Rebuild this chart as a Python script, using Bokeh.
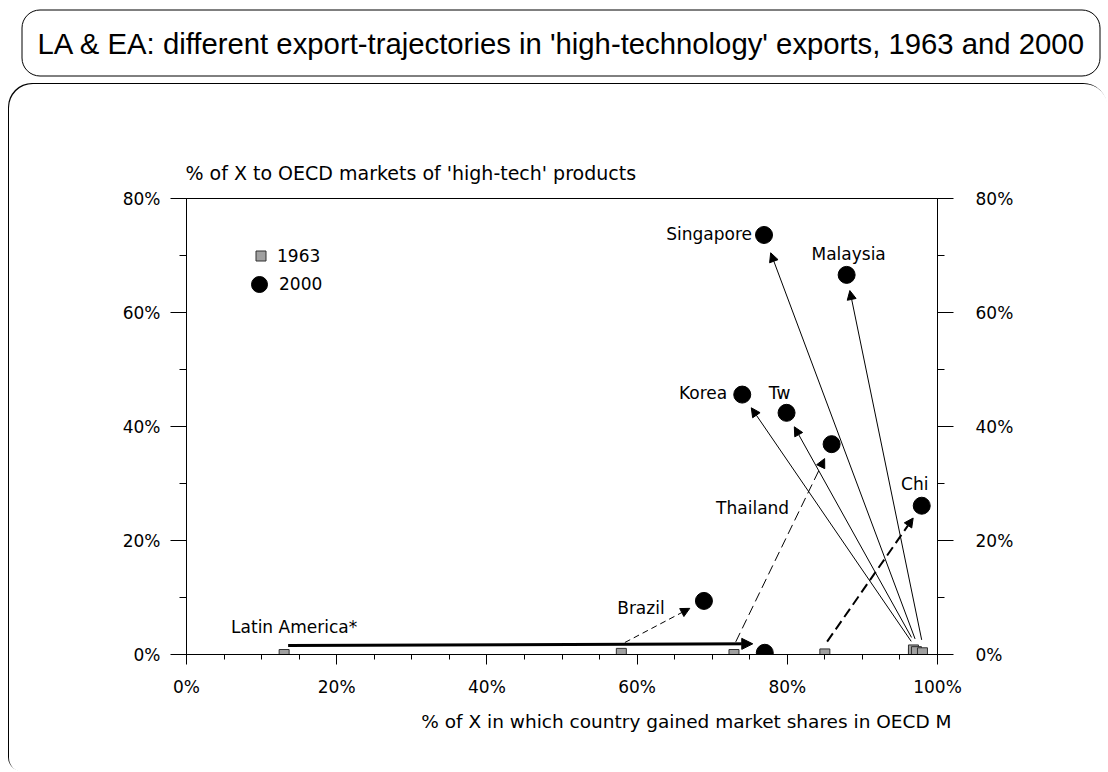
import math
from bokeh.plotting import figure
from bokeh.models import (ColumnDataSource, FixedTicker, LinearAxis, Legend, LegendItem,
                          Arrow, NormalHead, Label, BoxAnnotation, Title, Range1d)
from bokeh.embed import file_html
from bokeh.resources import INLINE
from bokeh.core.properties import value

# ---------------- data ----------------
countries = ["Latin America*", "Brazil", "Thailand", "Chi", "Korea", "Tw", "Singapore", "Malaysia"]
x_1963 = [13.0, 57.9, 72.9, 85.0, 96.8, 96.8, 97.2, 98.0]
y_1963 = [0.0, 0.2, 0.0, 0.1, 0.15, 0.8, 0.5, 0.3]
x_2000 = [77.0, 68.9, 85.9, 97.9, 74.0, 79.9, 76.9, 87.9]
y_2000 = [0.3, 9.4, 36.9, 26.1, 45.6, 42.4, 73.6, 66.6]

x_ticks = [0, 20, 40, 60, 80, 100]
x_tick_labels = ["0%", "20%", "40%", "60%", "80%", "100%"]
x_minor = list(range(0, 101, 5))
y_ticks = [0, 20, 40, 60, 80]
y_tick_labels = ["0%", "20%", "40%", "60%", "80%"]
y_minor = list(range(0, 81, 10))
legend_labels = ["1963", "2000"]

title_text = "LA & EA:  different export-trajectories in 'high-technology' exports, 1963 and 2000"
y_title = "% of X to OECD markets of 'high-tech' products"
x_title = "% of X in which country gained market shares in OECD M"

# ---------------- styles ----------------
FONT = "DejaVu Sans"
TFONT = "Liberation Sans"
FS = "17px"
lab_anchor = ["1963", "2000", "2000", "2000", "2000", "2000", "2000", "2000"]
lab_align = ["center", "center", "center", "center", "right", "center", "right", "center"]
lab_dx = [10, -63, -79, -7, -15, -7, -12, 2]
lab_dy = [-28, 7, 64, -22, -2, -20, -1, -21]
arr_dash = ["solid", "6 4", "10 5", "10 5", "solid", "solid", "solid", "solid"]
arr_width = [3, 1, 1, 2, 1, 1, 1, 1]
arr_gap_end = [12, 16, 16, 15, 16, 16, 19, 16]
arr_lift_end = [9, 0, 0, 0, 0, 0, 0, 0]
LIFT0 = 9
GAP0 = 4

# ---------------- title figure ----------------
TW, TH = 1108, 84
t = figure(width=TW, height=TH, x_range=Range1d(0, TW), y_range=Range1d(TH, 0),
           output_backend="svg", toolbar_location=None, min_border=0,
           x_axis_location=None, y_axis_location=None)
t.title.visible = False
t.xgrid.visible = False
t.ygrid.visible = False
t.outline_line_color = None
t.background_fill_color = None
t.border_fill_color = None
t.add_layout(BoxAnnotation(left=21.5, right=1099.5, top=9.5, bottom=75.5,
                           fill_alpha=0, line_color="black", line_alpha=1, line_width=1,
                           border_radius=18))
t.add_layout(Label(x=37, y=42.5, text=title_text, text_font=TFONT, text_font_size="29.3px",
                   text_baseline="middle", text_align="left", text_color="black"))

# ---------------- main figure ----------------
W, H = 1099, 688
FL, FR, FT, FB = 177, 928, 114, 570
FW, FH = FR - FL, FB - FT
X0, X1, Y0, Y1 = 0, 100, 0, 80
PX = FW / (X1 - X0)
PY = FH / (Y1 - Y0)

p = figure(width=W, height=H, x_range=(X0, X1), y_range=(Y0, Y1),
           output_backend="svg", toolbar_location=None,
           min_border_left=FL, min_border_right=W - FR,
           min_border_top=FT, min_border_bottom=H - FB,
           x_axis_type=None, y_axis_type=None, margin=(0, 0, 0, 9),
           styles={"border-radius": "24px 24px 24px 14px",
                   "box-shadow": "-1px -1px 0 0 black"})
p.title.visible = False
p.xgrid.visible = False
p.ygrid.visible = False
p.outline_line_color = "black"
p.outline_line_width = 1
p.background_fill_color = None
p.border_fill_color = None

def style_axis(ax, major_out, minor_out, standoff):
    ax.axis_line_color = "black"
    ax.major_tick_line_color = "black"
    ax.minor_tick_line_color = "black"
    ax.major_tick_in = 0
    ax.minor_tick_in = 0
    ax.major_tick_out = major_out
    ax.minor_tick_out = minor_out
    ax.major_label_standoff = standoff
    ax.major_label_text_font = FONT
    ax.major_label_text_font_size = FS
    ax.major_label_text_color = "black"

xb = LinearAxis(ticker=FixedTicker(ticks=x_ticks, minor_ticks=x_minor),
                major_label_overrides=dict(zip(x_ticks, x_tick_labels)))
style_axis(xb, 10, 5, 12)
p.add_layout(xb, "below")
for side, std in (("left", 10), ("right", 22)):
    ya = LinearAxis(ticker=FixedTicker(ticks=y_ticks, minor_ticks=y_minor),
                    major_label_overrides=dict(zip(y_ticks, y_tick_labels)))
    style_axis(ya, 16, 7, std)
    p.add_layout(ya, side)

# points
r63 = p.scatter(x_1963, y_1963, marker="square", size=10, fill_color="#a0a0a0",
                line_color="#303030", line_width=1)
r00 = p.scatter(x_2000, y_2000, marker="circle", size=17, fill_color="black",
                line_color="black")

# arrows computed from the data
for i in range(len(countries)):
    sx0, sy0 = x_1963[i] * PX, y_1963[i] * PY + LIFT0
    sx1, sy1 = x_2000[i] * PX, y_2000[i] * PY + arr_lift_end[i]
    dx, dy = sx1 - sx0, sy1 - sy0
    n = math.hypot(dx, dy)
    ux, uy = dx / n, dy / n
    ax0, ay0 = sx0 + ux * GAP0, sy0 + uy * GAP0
    ax1, ay1 = sx1 - ux * arr_gap_end[i], sy1 - uy * arr_gap_end[i]
    hs = 11 if arr_width[i] >= 3 else 9
    p.add_layout(Arrow(x_start=ax0 / PX, y_start=ay0 / PY, x_end=ax1 / PX, y_end=ay1 / PY,
                       line_color="black", line_width=arr_width[i], line_dash=arr_dash[i],
                       end=NormalHead(size=hs, fill_color="black", line_color="black", line_width=1)))

# country labels
lx = [x_1963[i] if lab_anchor[i] == "1963" else x_2000[i] for i in range(len(countries))]
ly = [y_1963[i] if lab_anchor[i] == "1963" else y_2000[i] for i in range(len(countries))]
src = ColumnDataSource(dict(x=lx, y=ly, text=countries, xo=lab_dx, yo=lab_dy, align=lab_align))
p.text(x="x", y="y", text="text", source=src, x_offset="xo", y_offset="yo",
       text_align="align", text_baseline="middle", text_font=value(FONT),
       text_font_size=FS, text_color="black")

# legends (two, so each marker keeps its own size)
for lab, rend, box, loc, so in ((legend_labels[0], r63, 25, (62, 386), 4),
                                (legend_labels[1], r00, 40, (53, 350), 0)):
    p.add_layout(Legend(items=[LegendItem(label=lab, renderers=[rend])],
                        location=loc, padding=0, margin=0, spacing=0,
                        glyph_width=box, glyph_height=box, label_standoff=so,
                        border_line_alpha=0, background_fill_alpha=0,
                        label_text_font=FONT, label_text_font_size=FS,
                        label_text_color="black"), "center")

# axis titles as side-panel titles
p.add_layout(Title(text=y_title, align="left", offset=-1, standoff=30,
                   text_font=FONT, text_font_size="19px", text_font_style="normal",
                   text_color="black"), "above")
p.add_layout(Title(text=x_title, align="right", offset=-14, standoff=18,
                   text_font=FONT, text_font_size="18.5px", text_font_style="normal",
                   text_color="black"), "below")

open("out.html", "w").write(file_html([t, p], INLINE))
